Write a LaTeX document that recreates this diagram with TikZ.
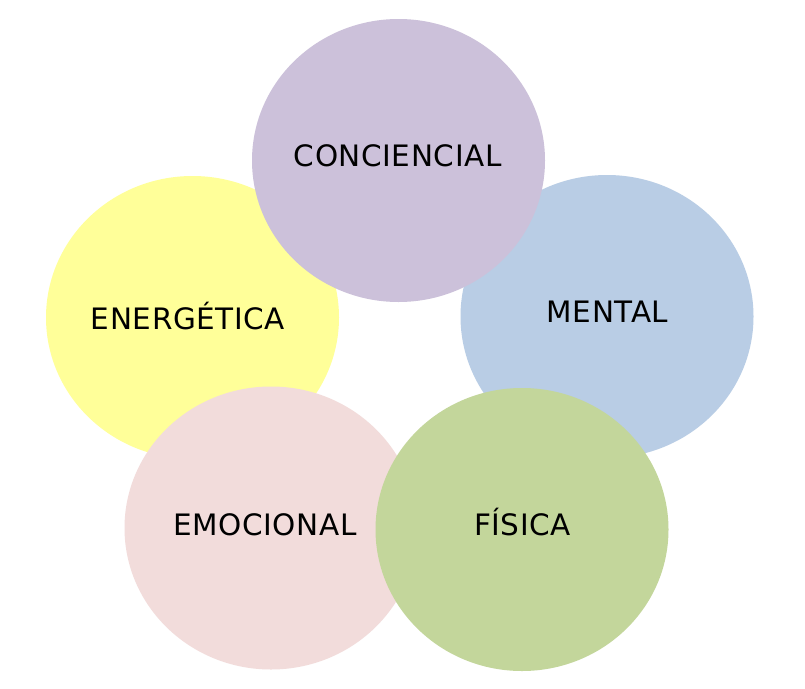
\documentclass[tikz,border=0pt]{standalone}
\usepackage{fontspec}
\setmainfont{DejaVu Sans}
\newfontfamily\lblfont[LetterSpace=2]{DejaVu Sans}
\usetikzlibrary{shapes.geometric}
\definecolor{cConc}{HTML}{CCC1DA}
\definecolor{cMent}{HTML}{B9CDE5}
\definecolor{cEner}{HTML}{FFFF99}
\definecolor{cEmoc}{HTML}{F2DCDB}
\definecolor{cFisi}{HTML}{C3D69B}
\tikzset{
  blob/.style={ellipse, draw=none, inner sep=0pt, minimum width=293pt, minimum height=283pt},
  lbl/.style={anchor=base, inner sep=0pt, font=\lblfont\fontsize{29.5}{34}\selectfont, text=black}
}
\begin{document}
\begin{tikzpicture}[x=1pt,y=-1pt]
\useasboundingbox[fill=white] (0,0) rectangle (805,688);
\node[blob, fill=cEner] (ener) at (192.5,317.5) {};
\node[blob, fill=cMent] (ment) at (607,316.5) {};
\node[blob, fill=cConc] (conc) at (398.5,160.5) {};
\node[blob, fill=cEmoc] (emoc) at (271,528) {};
\node[blob, fill=cFisi] (fisi) at (522,529.5) {};
\node[lbl] (tconc) at (397.7,166.5) {CONCIENCIAL};
\node[lbl] (tener) at (188,329) {ENERGÉTICA};
\node[lbl] (tment) at (607.5,322) {MENTAL};
\node[lbl] (temoc) at (265,535.5) {EMOCIONAL};
\node[lbl] (tfisi) at (522.5,535) {FÍSICA};
\end{tikzpicture}
\end{document}
